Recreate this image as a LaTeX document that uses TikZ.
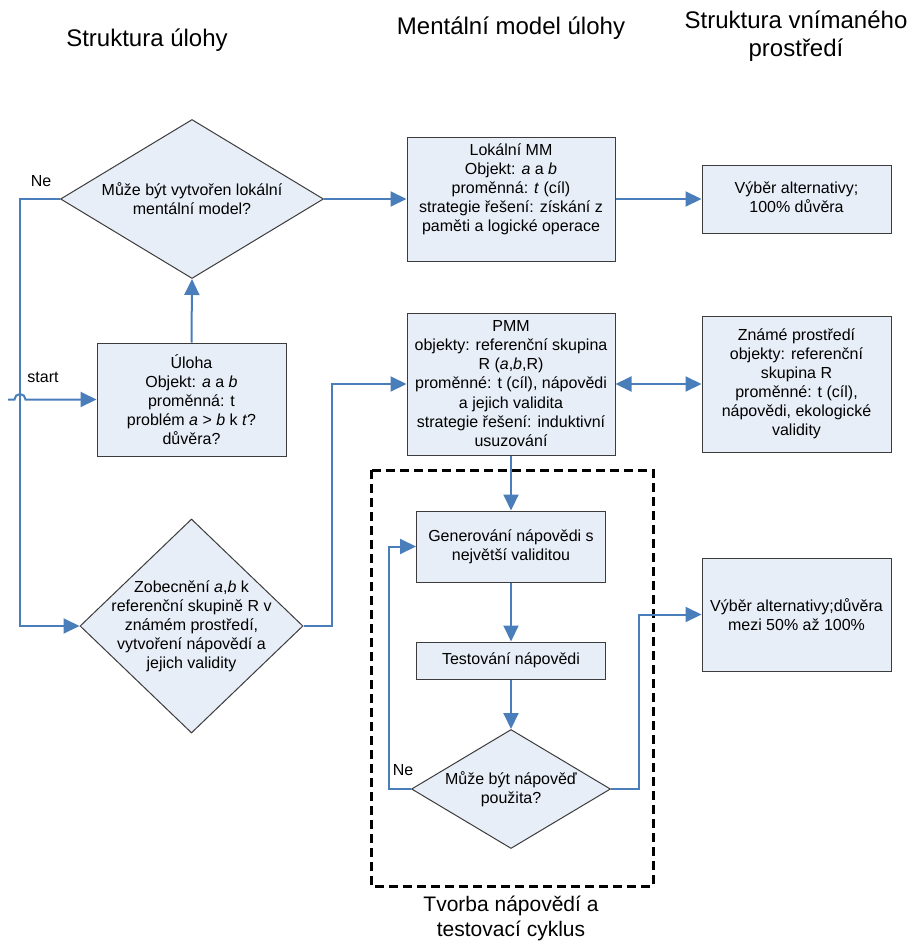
\documentclass[tikz,border=0pt]{standalone}
\usepackage{fontspec}
\setmainfont{Liberation Sans}
\usetikzlibrary{shapes.geometric,arrows.meta}
\definecolor{lineblue}{RGB}{74,126,187}
\definecolor{boxfill}{RGB}{232,238,247}
\definecolor{boxline}{RGB}{60,60,60}
\begin{document}
\begin{tikzpicture}[x=1pt,y=-1pt,
  box/.style={draw=boxline,line width=1pt,fill=boxfill,rectangle,inner sep=0pt},
  dia/.style={draw=boxline,line width=1pt,fill=boxfill,diamond,inner sep=0pt},
  txt/.style={inner sep=0pt,align=center,font=\fontsize{16}{19.1}\selectfont},
  lbl/.style={inner sep=0pt,font=\fontsize{16}{19.3}\selectfont},
  hdr/.style={inner sep=0pt,align=center,font=\fontsize{24}{28}\selectfont},
  conn/.style={draw=lineblue,line width=2pt,-{Triangle[length=16pt,width=15pt]}},
  plain/.style={draw=lineblue,line width=2pt},
  dbl/.style={draw=lineblue,line width=2pt,{Triangle[length=16pt,width=15pt]}-{Triangle[length=16pt,width=15pt]}}
]
\useasboundingbox[fill=white] (0,0) rectangle (912,947);

% headers
\node[hdr] (h1) at (147,40) {Struktura úlohy};
\node[hdr] (h2) at (511,28) {Mentální model úlohy};
\node[hdr] (h3) at (796,36) {Struktura vnímaného\\prostředí};

% dashed cycle frame
\draw[line width=3pt,dash pattern=on 9pt off 5pt] (371,470) rectangle (653,886);
\node[hdr,font=\fontsize{21}{25}\selectfont] (cyc) at (511,918) {Tvorba nápovědí a\\testovací cyklus};

% shapes
\node[dia,minimum width=263pt,minimum height=159pt] (d1) at (192,199) {};
\node[txt] at (192,199) {Může být vytvořen lokální\\mentální model?};

\node[box,minimum width=208pt,minimum height=124pt] (lmm) at (511,199) {};
\node[txt] at (511,189.5) {Lokální MM\\Objekt: \textit{a} a \textit{b}\\proměnná: \textit{t} (cíl)\\strategie řešení: získání z\\paměti a logické operace};

\node[box,minimum width=189pt,minimum height=68pt] (v1) at (796.5,199) {};
\node[txt] at (796.5,197) {Výběr alternativy;\\100\% důvěra};

\node[box,minimum width=189pt,minimum height=113pt] (uloha) at (191.5,399.5) {};
\node[txt] at (191.5,399.5) {Úloha\\Objekt: \textit{a} a \textit{b}\\proměnná: t\\problém \textit{a} > \textit{b} k \textit{t}?\\důvěra?};

\node[box,minimum width=208pt,minimum height=142pt] (pmm) at (511,384) {};
\node[txt] at (511,383.5) {PMM\\objekty: referenční skupina\\R (\textit{a},\textit{b},R)\\proměnné: t (cíl), nápovědi\\a jejich validita\\strategie řešení: induktivní\\usuzování};

\node[box,minimum width=189pt,minimum height=136pt] (zn) at (796.5,384) {};
\node[txt] at (796.5,384) {Známé prostředí\\objekty: referenční\\skupina R\\proměnné: t (cíl),\\nápovědi, ekologické\\validity};

\node[dia,minimum width=223pt,minimum height=214pt] (d3) at (191.5,626) {};
\node[txt] at (191.5,626) {Zobecnění \textit{a},\textit{b} k\\referenční skupině R v\\známém prostředí,\\vytvoření nápovědí a\\jejich validity};

\node[box,minimum width=189pt,minimum height=71pt] (gen) at (511,546.5) {};
\node[txt] at (511,547) {Generování nápovědi s\\největší validitou};

\node[box,minimum width=189pt,minimum height=37pt] (test) at (511,660.5) {};
\node[txt] at (511,660.5) {Testování nápovědi};

\node[dia,minimum width=199pt,minimum height=119pt] (d4) at (511,789) {};
\node[txt] at (511,789) {Může být nápověď\\použita?};

\node[box,minimum width=189pt,minimum height=113pt] (v2) at (796.5,614.5) {};
\node[txt] at (796.5,615) {Výběr alternativy;důvěra\\mezi 50\% až 100\%};

% labels
\node[lbl] (ne1) at (41,181) {Ne};
\node[lbl] (st) at (43,377) {start};
\node[lbl] (ne2) at (403,770) {Ne};

% connectors
\draw[conn] (d1.east) -- (lmm.west);
\draw[plain] (lmm.east) -- ++(44,0) coordinate (m1);
\draw[conn] (m1) -- (v1.west);
\draw[conn] (uloha.north) -- (d1.south);
\draw[conn] (d1.west) -- ++(-40,0) |- (d3.west);
\coordinate (start) at (8,399.5);
\draw[conn] (start) -- (14.5,399.5) arc[start angle=180,end angle=360,radius=5.5] -- (uloha.west);
\draw[conn] (d3.east) -- ++(28,0) |- (pmm.west);
\draw[dbl] (pmm.east) -- (zn.west);
\draw[conn] (pmm.south) -- (gen.north);
\draw[conn] (gen.south) -- (test.north);
\draw[conn] (test.south) -- (d4.north);
\draw[conn] (d4.west) -- ++(-22,0) |- (gen.west);
\draw[conn] (d4.east) -- ++(28,0) |- (v2.west);
\end{tikzpicture}
\end{document}
